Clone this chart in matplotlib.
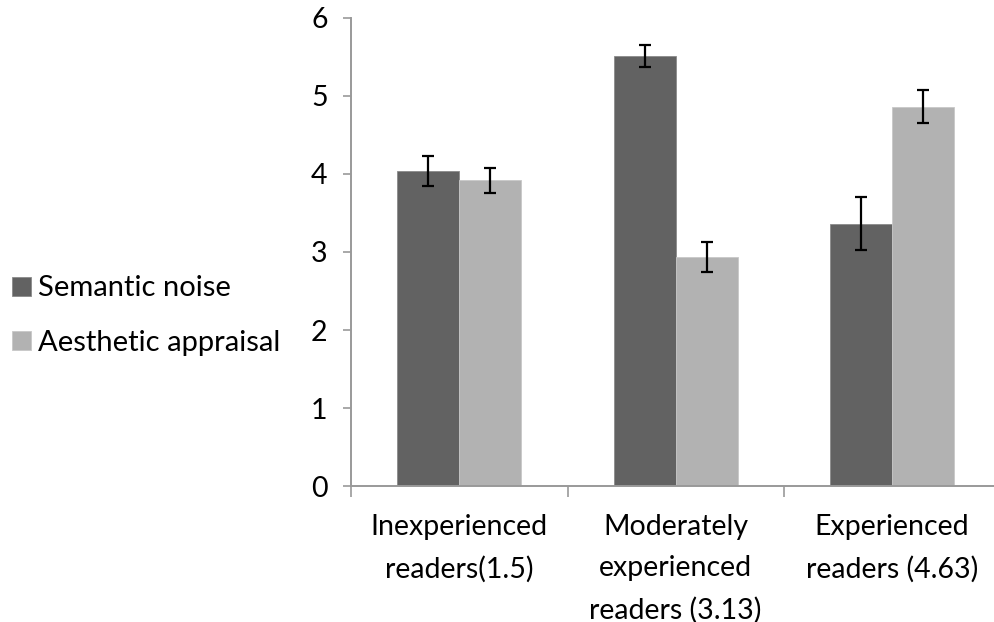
import matplotlib
matplotlib.use("Agg")
import matplotlib.pyplot as plt
import numpy as np

categories = ["Inexperienced\nreaders(1.5)", "Moderately\nexperienced\nreaders (3.13)", "Experienced\nreaders (4.63)"]
series_names = ["Semantic noise", "Aesthetic appraisal"]
semantic_noise = [4.04, 5.51, 3.36]
semantic_err = [0.19, 0.14, 0.34]
aesthetic = [3.92, 2.94, 4.86]
aesthetic_err = [0.16, 0.19, 0.21]
yticks = [0, 1, 2, 3, 4, 5, 6]

plt.rcParams['font.family'] = ['Lato', 'DejaVu Sans']

W, H = 994, 622
fig = plt.figure(figsize=(W / 100, H / 100), dpi=100)
ax = fig.add_axes([351.3 / W, 1 - 486.3 / H, 648.7 / W, (486.3 - 17.7) / H])

x = np.arange(len(categories))
bw = 0.287
dark = "#626262"
light = "#b2b2b2"
FS = 20.5
ekw = dict(elinewidth=1.6, capthick=1.6, ecolor="black")
ax.bar(x - bw / 2, semantic_noise, bw, color=dark, edgecolor="#8a8a8a", linewidth=0.6,
       yerr=semantic_err, capsize=4.6, error_kw=ekw, label=series_names[0])
ax.bar(x + bw / 2, aesthetic, bw, color=light, edgecolor="#c8c8c8", linewidth=0.6,
       yerr=aesthetic_err, capsize=4.6, error_kw=ekw, label=series_names[1])

ax.set_xlim(-0.5, len(categories) - 0.5)
ax.set_ylim(0, 6)
ax.set_yticks(yticks)
ax.set_yticklabels([str(t) for t in yticks], fontsize=FS)
ax.set_xticks(x)
ax.set_xticklabels(categories, fontsize=FS, linespacing=1.71)
ax.set_xticks(np.arange(len(categories) + 1) - 0.5, minor=True)
ax.tick_params(axis='x', which='major', length=0, pad=20)
ax.tick_params(axis='x', which='minor', length=8, width=1.2, color="#999999")
ax.tick_params(axis='y', which='major', length=6, width=1.2, color="#999999", pad=11)
for s in ["top", "right"]:
    ax.spines[s].set_visible(False)
for s in ["left", "bottom"]:
    ax.spines[s].set_color("#999999")
    ax.spines[s].set_linewidth(1.4)

fig.legend(loc="center left", bbox_to_anchor=(12 / W, 1 - 315.5 / H), frameon=False,
           fontsize=21, handlelength=0.65, handleheight=0.65, handletextpad=0.25,
           labelspacing=0.96, borderpad=0, borderaxespad=0)

fig.savefig("out.png", dpi=100)
